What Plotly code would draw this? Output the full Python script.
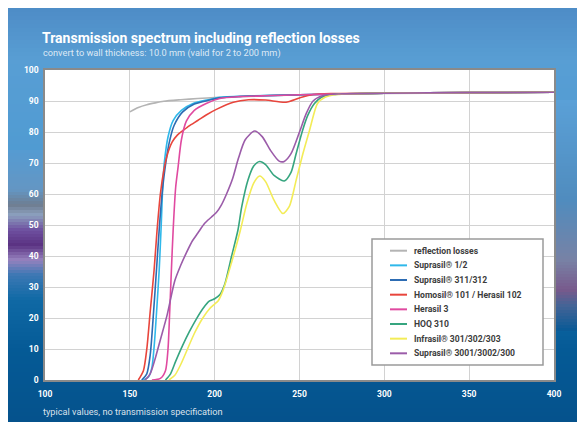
import plotly.graph_objects as go

# ---------------- data ----------------
series_names = [
    "reflection losses",
    "Suprasil® 1/2",
    "Suprasil® 311/312",
    "Homosil® 101 / Herasil 102",
    "Herasil 3",
    "HOQ 310",
    "Infrasil® 301/302/303",
    "Suprasil® 3001/3002/300",
]

wl_reflection = [150, 155, 160, 165, 170, 180, 190, 200, 225, 250, 300, 350, 400]
t_reflection = [86.5, 87.9, 88.8, 89.4, 89.9, 90.4, 90.8, 91.1, 91.6, 92.0, 92.4, 92.6, 92.8]

wl_suprasil12 = [158, 161, 163, 164.5, 166, 167.3, 168.5, 169.6, 170.5, 172.5, 175.5, 180.4, 187.3, 197, 203, 220, 250, 300, 350, 400]
t_suprasil12 = [0, 1, 4, 12, 24, 35.5, 50, 65, 71, 78.4, 83.7, 87, 89.2, 90.5, 91.2, 91.6, 92, 92.5, 92.7, 92.8]

wl_suprasil311 = [157, 160, 162, 164, 165.7, 167.5, 169, 170.6, 173, 176, 181, 188, 197, 203, 220, 250, 300, 350, 400]
t_suprasil311 = [0, 2, 8, 22, 35.5, 50, 60, 67.7, 76, 82, 86.4, 89, 90.3, 91, 91.6, 92, 92.5, 92.7, 92.8]

wl_homosil = [155, 158, 160, 162, 164.3, 166, 168, 170, 172, 175, 178, 181.4, 185, 190, 195, 201, 211, 220, 230, 242, 250, 258, 270, 300, 350, 400]
t_homosil = [0, 3, 10, 22, 35.5, 48, 60, 67.5, 72.5, 76.8, 79, 80.5, 82, 83.7, 85.5, 87.3, 89.6, 90.4, 90.3, 89.6, 91, 92.1, 92.4, 92.5, 92.7, 92.8]

wl_herasil3 = [163, 168, 171, 172.5, 173.5, 174.5, 175.5, 177, 178.4, 180.4, 183.3, 188, 195, 203, 215, 230, 250, 300, 350, 400]
t_herasil3 = [0, 0.5, 3, 10, 22, 35.5, 48, 62, 68.5, 77.5, 83.5, 87, 89.2, 90.8, 91.4, 91.7, 92, 92.5, 92.7, 92.8]

wl_hoq310 = [171, 174, 177, 181, 185, 189, 193, 197, 200, 203, 206, 210, 213.7, 216, 219.6, 223, 226.5, 230, 235, 241, 245, 248, 251.8, 255, 258.8, 263, 270, 300, 350, 400]
t_hoq310 = [0, 2, 6, 11, 15.5, 19.5, 23, 25.5, 26.2, 27.5, 31, 40, 48.3, 56, 64.4, 69, 70.5, 69.5, 66, 64.2, 67, 73, 80.5, 85.5, 89.2, 91.2, 92.1, 92.5, 92.7, 92.8]

wl_infrasil = [173, 176.5, 180, 184, 188, 193, 197, 200, 202, 205, 210, 215, 219, 223, 226.5, 230, 235, 240.2, 244, 248, 252, 255.9, 260.6, 265, 272, 300, 350, 400]
t_infrasil = [0, 1.5, 5, 10, 15, 20, 23, 24.5, 25.5, 29, 38, 48, 57, 63.5, 65.8, 64, 58, 53.7, 56, 64.4, 73, 80.5, 89.2, 91.2, 92.1, 92.5, 92.7, 92.8]

wl_suprasil3001 = [159, 162, 165, 168, 172, 176.5, 180, 183.3, 187, 190.2, 194, 198, 201, 204, 207, 210.6, 214, 218, 223.5, 228, 233, 238, 241, 245, 250, 254, 258, 264, 275, 300, 350, 400]
t_suprasil3001 = [0, 2, 7, 13, 21, 32, 37, 41, 45, 47.5, 50.5, 52.5, 54, 56.5, 60, 65, 71.5, 77.5, 80.3, 78.5, 74, 70.6, 70.5, 73, 80, 86, 90, 91.8, 92.3, 92.5, 92.7, 92.8]

series_x = [wl_reflection, wl_suprasil12, wl_suprasil311, wl_homosil, wl_herasil3, wl_hoq310, wl_infrasil, wl_suprasil3001]
series_y = [t_reflection, t_suprasil12, t_suprasil311, t_homosil, t_herasil3, t_hoq310, t_infrasil, t_suprasil3001]

x_ticks = [100, 150, 200, 250, 300, 350, 400]
y_ticks = [0, 10, 20, 30, 40, 50, 60, 70, 80, 90, 100]

# ---------------- style ----------------
colors = ["#b4b4b4", "#2fb8ea", "#2d6cb3", "#e8453c", "#e04aa0", "#36a57f", "#f3ec57", "#9b5ca9"]
OFF = 8                      # page body margin
W, H = 577, 414              # figure size (page 8..585, 8..422)
ML, MR, MT, MB = 37, 31, 62, 42
PW, PH = W - ML - MR, H - MT - MB
FONT = "Roboto, Liberation Sans, sans-serif"


def px(xp):          # page x -> paper
    return (xp - OFF - ML) / PW


def py(yp):          # page y -> paper
    return (H - MB - (yp - OFF)) / PH


def lerp_color(v, keys):
    if v <= keys[0][0]:
        c = keys[0][1]
    elif v >= keys[-1][0]:
        c = keys[-1][1]
    else:
        for (a, ca), (b, cb) in zip(keys[:-1], keys[1:]):
            if a <= v <= b:
                t = (v - a) / (b - a)
                c = tuple(ca[i] + (cb[i] - ca[i]) * t for i in range(3))
                break
    return "rgb(%d,%d,%d)" % tuple(int(round(k)) for k in c)


main_keys = [(8, (78, 140, 198)), (60, (88, 158, 212)), (150, (80, 155, 210)),
             (250, (40, 125, 185)), (300, (15, 105, 165)), (350, (5, 90, 150)), (422, (5, 82, 140))]
left_keys = [(150, (85, 155, 210)), (190, (100, 150, 195)), (205, (110, 125, 145)),
             (215, (140, 160, 190)), (230, (110, 80, 160)), (245, (90, 50, 130)),
             (260, (150, 130, 190)), (275, (60, 120, 180)), (300, (15, 105, 165))]
right_keys = [(100, (90, 160, 215)), (200, (80, 140, 190)), (260, (120, 130, 165)),
              (290, (120, 90, 140)), (305, (70, 100, 150)), (330, (10, 90, 150))]

shapes = []
step = 4
y = 8
while y < 422:
    y2 = min(y + step, 422)
    shapes.append(dict(type="rect", xref="paper", yref="paper", layer="below",
                       x0=px(8), x1=px(585), y0=py(y2), y1=py(y),
                       fillcolor=lerp_color((y + y2) / 2, main_keys), line=dict(width=0)))
    y = y2
for y in range(150, 300, 3):
    shapes.append(dict(type="rect", xref="paper", yref="paper", layer="below",
                       x0=px(8), x1=0, y0=py(y + 3), y1=py(y),
                       fillcolor=lerp_color(y + 1.5, left_keys), line=dict(width=0)))
for y in range(100, 330, 3):
    shapes.append(dict(type="rect", xref="paper", yref="paper", layer="below",
                       x0=1, x1=px(585), y0=py(y + 3), y1=py(y),
                       fillcolor=lerp_color(y + 1.5, right_keys), line=dict(width=0)))
# white plot area
shapes.append(dict(type="rect", xref="paper", yref="paper", layer="below",
                   x0=0, x1=1, y0=0, y1=1, fillcolor="white", line=dict(width=0)))

fig = go.Figure()
for name, xs, ys, col in zip(series_names, series_x, series_y, colors):
    fig.add_trace(go.Scatter(x=xs, y=ys, mode="lines", name=name,
                             line=dict(color=col, width=1.6, shape="spline", smoothing=0.7),
                             showlegend=False, hoverinfo="x+y+name"))

# custom legend box
shapes.append(dict(type="rect", xref="paper", yref="paper", layer="above",
                   x0=px(372), x1=px(543), y0=py(365), y1=py(239),
                   fillcolor="white", line=dict(color="#9a9a9a", width=1.5)))
annotations = []
for i, (name, col) in enumerate(zip(series_names, colors)):
    yy = 250.7 + 14.66 * i
    shapes.append(dict(type="line", xref="paper", yref="paper", layer="above",
                       x0=px(390), x1=px(407), y0=py(yy), y1=py(yy),
                       line=dict(color=col, width=2)))
    annotations.append(dict(xref="paper", yref="paper", x=px(412), y=py(yy),
                            xanchor="left", yanchor="middle", showarrow=False,
                            text=name, font=dict(family=FONT, size=8.6, color="#3c3c3c", weight="bold")))

annotations.append(dict(xref="paper", yref="paper", x=px(40), y=py(38), xanchor="left", yanchor="middle",
                        showarrow=False, text="Transmission spectrum including reflection losses",
                        font=dict(family=FONT, size=14, color="white", weight="bold")))
annotations.append(dict(xref="paper", yref="paper", x=px(41), y=py(53), xanchor="left", yanchor="middle",
                        showarrow=False, text="convert to wall thickness: 10.0 mm (valid for 2 to 200 mm)",
                        font=dict(family=FONT, size=9.2, color="rgba(255,255,255,0.8)")))
annotations.append(dict(xref="paper", yref="paper", x=px(41), y=py(411), xanchor="left", yanchor="middle",
                        showarrow=False, text="typical values, no transmission specification",
                        font=dict(family=FONT, size=9.2, color="rgba(255,255,255,0.85)")))

axis_common = dict(showgrid=True, gridcolor="#d2d2d2", gridwidth=1, zeroline=False,
                   showline=True, linecolor="#8a8a8a", linewidth=1.5, mirror=True,
                   ticks="", tickfont=dict(family=FONT, size=8.5, color="white", weight="bold"),
                   fixedrange=True)
fig.update_layout(
    width=W, height=H, margin=dict(l=ML, r=MR, t=MT, b=MB),
    paper_bgcolor="white", plot_bgcolor="white",
    xaxis=dict(range=[100, 400], tickvals=x_ticks, ticktext=[str(v) for v in x_ticks],
               ticklabelstandoff=5, **axis_common),
    yaxis=dict(range=[0, 100], tickvals=y_ticks, ticktext=[str(v) for v in y_ticks],
               ticklabelstandoff=3, **axis_common),
    shapes=shapes, annotations=annotations, showlegend=False,
)

fig.write_html("out.html")
